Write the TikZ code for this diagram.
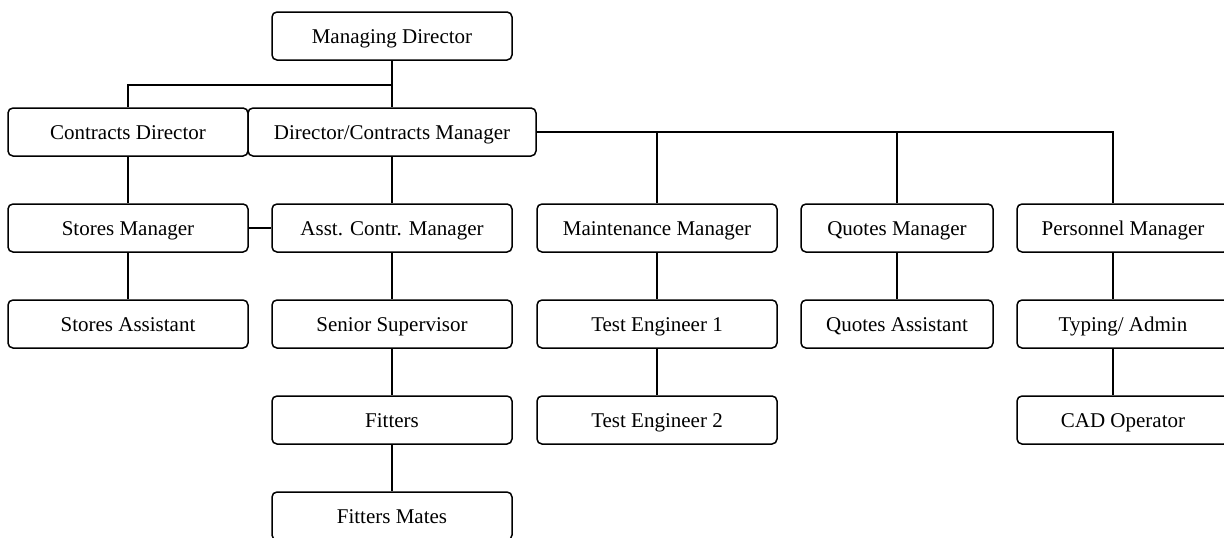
\documentclass[tikz,border=0pt]{standalone}
\usepackage{fontspec}
\setmainfont{Liberation Serif}
\begin{document}
\begin{tikzpicture}[x=1pt,y=-1pt,
  box/.style={draw, line width=1.5pt, rounded corners=5pt, minimum height=48pt,
    inner sep=0pt, text height=18pt, text depth=4pt, font=\fontsize{21}{25}\selectfont},
  wA/.style={minimum width=240pt},
  conn/.style={line width=1.3pt}]
\useasboundingbox (0,0) rectangle (1224,538);
% row 1
\node[box,wA] (md) at (392,36) {Managing Director};
% row 2
\node[box,wA] (cd) at (128,132) {Contracts Director};
\node[box,minimum width=288pt] (dcm) at (392,132) {Director/Contracts Manager};
% row 3
\node[box,wA] (sm) at (128,228) {Stores Manager};
\node[box,wA] (acm) at (392,228) {Asst. Contr. Manager};
\node[box,wA] (mm) at (657,228) {Maintenance Manager};
\node[box,minimum width=192pt] (qm) at (897,228) {Quotes Manager};
\node[box,minimum width=212pt] (pm) at (1123,228) {Personnel Manager};
% row 4
\node[box,wA] (sa) at (128,324) {Stores Assistant};
\node[box,wA] (ss) at (392,324) {Senior Supervisor};
\node[box,wA] (te1) at (657,324) {Test Engineer 1};
\node[box,minimum width=192pt] (qa) at (897,324) {Quotes Assistant};
\node[box,minimum width=212pt] (ta) at (1123,324) {Typing/ Admin};
% row 5
\node[box,wA] (fit) at (392,420) {Fitters};
\node[box,wA] (te2) at (657,420) {Test Engineer 2};
\node[box,minimum width=212pt] (cad) at (1123,420) {CAD Operator};
% row 6
\node[box,wA] (fm) at (392,516) {Fitters Mates};
% connectors
\coordinate (j) at (392,85);
\draw[conn] (md.south) -- (dcm.north);
\draw[conn] (j) -| (cd.north);
\draw[conn] (cd.south) -- (sm.north);
\draw[conn] (sm.south) -- (sa.north);
\draw[conn] (sm.east) -- (acm.west);
\draw[conn] (dcm.south) -- (acm.north);
\draw[conn] (acm.south) -- (ss.north);
\draw[conn] (ss.south) -- (fit.north);
\draw[conn] (fit.south) -- (fm.north);
\draw[conn] (dcm.east) -| ([xshift=-10pt]pm.north);
\draw[conn] (dcm.east -| mm.north) -- (mm.north);
\draw[conn] (dcm.east -| qm.north) -- (qm.north);
\draw[conn] (mm.south) -- (te1.north);
\draw[conn] (te1.south) -- (te2.north);
\draw[conn] (qm.south) -- (qa.north);
\draw[conn] ([xshift=-10pt]pm.south) -- ([xshift=-10pt]ta.north);
\draw[conn] ([xshift=-10pt]ta.south) -- ([xshift=-10pt]cad.north);
\end{tikzpicture}
\end{document}
